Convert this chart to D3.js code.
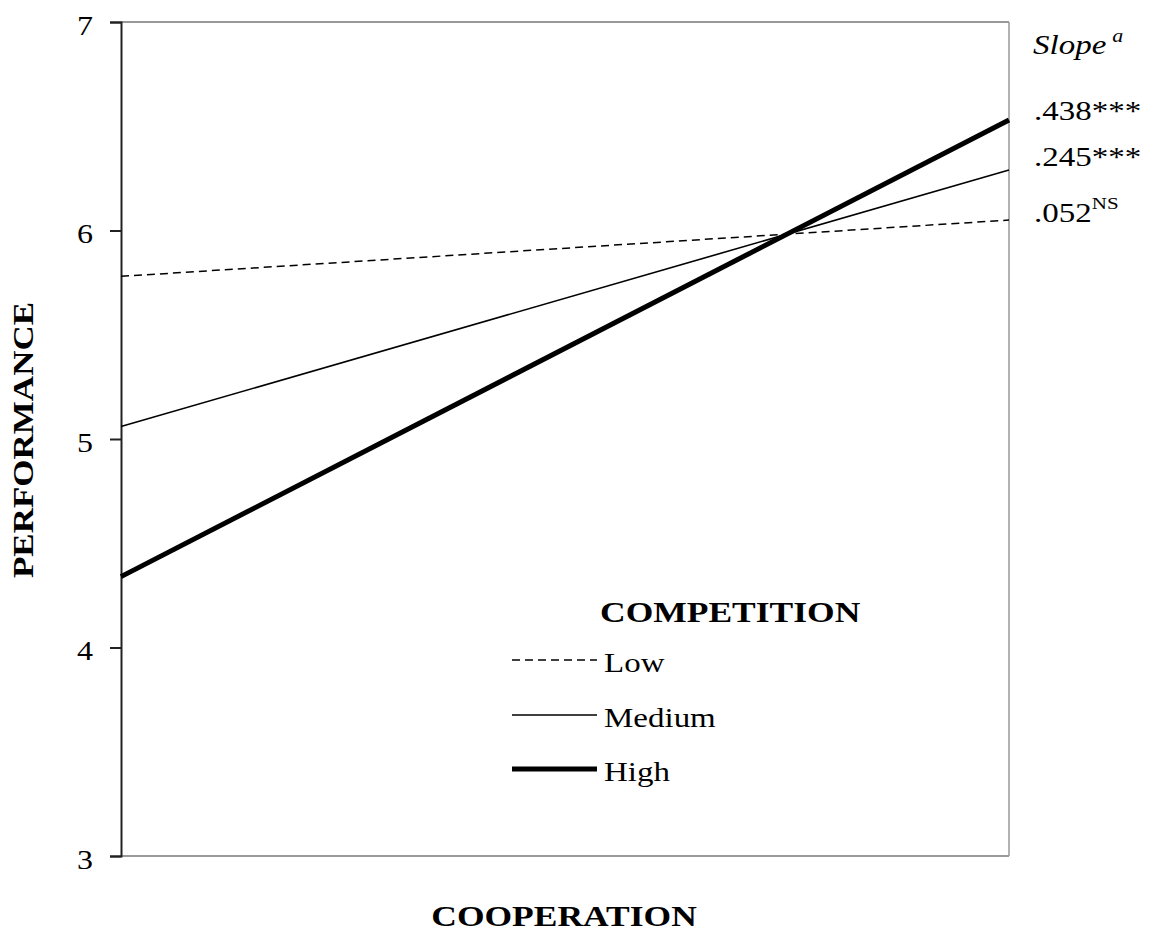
<!DOCTYPE html>
<html><head><meta charset="utf-8">
<script src="https://cdn.jsdelivr.net/npm/d3@7"></script>
<style>
html,body{margin:0;padding:0;background:#fff;}
svg{display:block;font-family:"Liberation Serif","Times New Roman",serif;}
</style></head>
<body>
<svg id="chart" width="1149" height="932"></svg>
<script>
// ---- data ----
const levels = ["Low", "Medium", "High"];
const cooperationPoints = [0, 1];            // low vs high cooperation
const lowValues = [5.78, 6.05];
const mediumValues = [5.06, 6.29];
const highValues = [4.34, 6.53];
const yTicks = [3, 4, 5, 6, 7];
const slopeValues = [".438", ".245", ".052"];
const slopeMarks = ["***", "***", "NS"];
const legendTitle = "COMPETITION";
const xTitle = "COOPERATION";
const yTitle = "PERFORMANCE";

const series = [
  {name: levels[0], values: lowValues, width: 1.5, dash: "8,5"},
  {name: levels[1], values: mediumValues, width: 1.6, dash: null},
  {name: levels[2], values: highValues, width: 5, dash: null}
];

const svg = d3.select("#chart");
const x = d3.scaleLinear().domain([0, 1]).range([121, 1009]);
const y = d3.scaleLinear().domain([3, 7]).range([856, 22]);
const SY = 0.83; // vertical squash of horizontal text in reference

// frame (top, right, bottom gray)
svg.append("line").attr("x1", x(0)).attr("x2", x(1)).attr("y1", y(7)).attr("y2", y(7))
  .attr("stroke", "#999").attr("stroke-width", 2);
svg.append("line").attr("x1", x(1)).attr("x2", x(1)).attr("y1", y(7)).attr("y2", y(3))
  .attr("stroke", "#999").attr("stroke-width", 1.5);
svg.append("line").attr("x1", x(0)).attr("x2", x(1)).attr("y1", y(3)).attr("y2", y(3))
  .attr("stroke", "#999").attr("stroke-width", 2);

// y axis
const yAxis = d3.axisLeft(y).tickValues(yTicks).tickSize(11).tickFormat(d3.format("d"));
const gy = svg.append("g").attr("transform", `translate(${x(0)},0)`).call(yAxis);
gy.select(".domain").attr("stroke", "#222").attr("stroke-width", 2);
gy.selectAll(".tick line").attr("stroke", "#222").attr("stroke-width", 2);
gy.selectAll(".tick text").remove();
gy.selectAll(".tick").append("text")
  .attr("text-anchor", "end")
  .attr("font-family", "Liberation Serif, serif")
  .attr("font-size", 32)
  .attr("fill", "#000")
  .attr("transform", `translate(-28,12) scale(1,${SY})`)
  .text(d => d);

// lines
const line = d3.line().x((d, i) => x(cooperationPoints[i])).y(d => y(d));
series.forEach(s => {
  svg.append("path").datum(s.values)
    .attr("d", line)
    .attr("fill", "none")
    .attr("stroke", "#000")
    .attr("stroke-width", s.width)
    .attr("stroke-dasharray", s.dash);
});

// axis titles
svg.append("text")
  .attr("transform", `translate(564,926) scale(1,${SY})`)
  .attr("text-anchor", "middle").attr("font-weight", "bold").attr("font-size", 35.5)
  .text(xTitle);
svg.append("text")
  .attr("transform", `translate(33,440) rotate(-90) scale(1,${SY})`)
  .attr("text-anchor", "middle").attr("font-weight", "bold").attr("font-size", 35)
  .text(yTitle);

// legend
const legend = svg.append("g");
legend.append("text")
  .attr("transform", `translate(600,622) scale(1,${SY})`)
  .attr("font-weight", "bold").attr("font-size", 35.5)
  .text(legendTitle);
const legY = [660, 715, 769];
series.forEach((s, i) => {
  legend.append("line")
    .attr("x1", 512).attr("x2", 597).attr("y1", legY[i]).attr("y2", legY[i])
    .attr("stroke", "#000").attr("stroke-width", s.width)
    .attr("stroke-dasharray", s.dash);
  legend.append("text")
    .attr("transform", `translate(604,${legY[i] + 12}) scale(1,${SY})`)
    .attr("font-size", 33)
    .text(s.name);
});

// slope annotations
const ann = svg.append("g");
const slopeT = ann.append("text")
  .attr("transform", `translate(1033,54) scale(1,${SY})`)
  .attr("font-size", 33).attr("font-style", "italic");
slopeT.append("tspan").text("Slope");
slopeT.append("tspan").attr("dx", 6).attr("dy", -14).attr("font-size", 22).text("a");

const slopeY = [120, 166, 222];
slopeValues.forEach((v, i) => {
  const t = ann.append("text")
    .attr("transform", `translate(1034,${slopeY[i]}) scale(1,${SY})`)
    .attr("font-size", 33);
  t.append("tspan").text(v);
  if (slopeMarks[i] === "NS") {
    t.append("tspan").attr("dy", -16).attr("font-size", 21).text(slopeMarks[i]);
  } else {
    t.append("tspan").text(slopeMarks[i]);
  }
});
</script>
</body></html>
